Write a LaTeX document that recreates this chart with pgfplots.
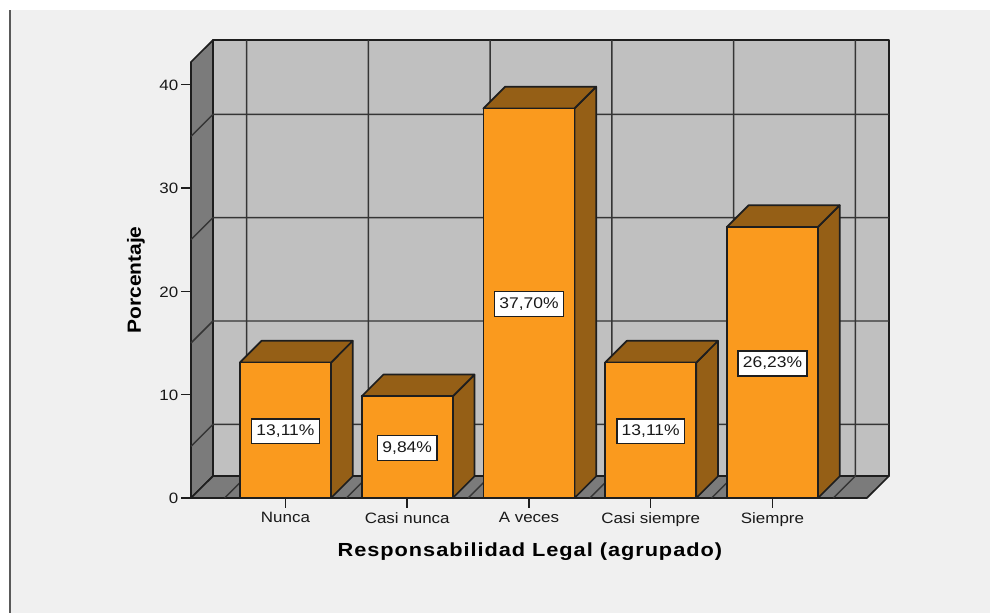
\documentclass[border=0pt]{standalone}
\usepackage{fontspec}
\usepackage{pgfplots}
\pgfplotsset{compat=1.18}
\setmainfont[FakeStretch=1.13]{Liberation Sans}
\newfontfamily\xlabfont[FakeStretch=1.15,LetterSpace=5,BoldFont={Liberation Sans Bold}]{Liberation Sans}
\newfontfamily\ylabfont[FakeStretch=1.1,BoldFont={Liberation Sans Bold}]{Liberation Sans}
\definecolor{bgc}{HTML}{F0F0F0}
\definecolor{wallc}{HTML}{C0C0C0}
\definecolor{floorc}{HTML}{7B7B7B}
\definecolor{orangec}{HTML}{FA9A1E}
\definecolor{brownc}{HTML}{955F16}
\definecolor{linec}{HTML}{1E1E1E}
\begin{document}
\begin{tikzpicture}[x=0.75pt,y=0.75pt]
\fill[white] (0,0) rectangle (990,613);
\fill[bgc] (11,0) rectangle (990,603);
\draw[color=black!65,line width=1.4pt] (10,0) -- (10,603);
\begin{axis}[
  at={(143.25pt,86.25pt)},anchor=south west,
  scale only axis,width=523.5pt,height=343.5pt,
  xmin=0.224,xmax=5.957,ymin=0,ymax=44.32,
  clip=false,
  axis line style={draw=none},
  xtick={1,2,3,4,5},
  xticklabels={Nunca,Casi nunca,A veces,Casi siempre,Siempre},
  ytick={0,10,20,30,40},
  xtick pos=lower,ytick pos=left,
  tick align=outside,
  major tick length=7.5pt,
  tick style={linec,line width=1.1pt},
  tick label style={font=\fontsize{11.25}{13}\selectfont,text=black!90},
  xticklabel style={yshift=0.2pt},
  yticklabel style={xshift=1.5pt,yshift=-0.5pt},
  /pgf/number format/assume math mode=true,
  xlabel={\xlabfont\bfseries Responsabilidad Legal (agrupado)},
  ylabel={\ylabfont\bfseries Porcentaje},
  every axis x label/.style={at={(axis description cs:0.4855,-0.1175)},anchor=center,font=\fontsize{14.2}{16}\selectfont},
  every axis y label/.style={at={(axis description cs:-0.0789,0.476)},anchor=center,rotate=90,font=\fontsize{14.3}{16}\selectfont},
  wall/.style={draw=linec,line width=1.3pt,line join=round},
  gridl/.style={draw=linec!90!white,line width=1.1pt,no markers},
  barside/.style={fill=brownc,draw=linec,line width=1.3pt,line join=round},
]
% walls
\addplot[wall,fill=floorc] coordinates {(0.224,0)(0.405,2.129)(0.405,44.32)(0.224,42.19)} --cycle;
\addplot[wall,fill=floorc] coordinates {(0.224,0)(5.776,0)(5.957,2.129)(0.405,2.129)} --cycle;
\addplot[wall,fill=wallc] coordinates {(0.405,2.129)(5.957,2.129)(5.957,44.32)(0.405,44.32)} --cycle;
% horizontal grid lines
\addplot[gridl] coordinates {(0.224,5)(0.405,7.129)(5.957,7.129)};
\addplot[gridl] coordinates {(0.224,15)(0.405,17.129)(5.957,17.129)};
\addplot[gridl] coordinates {(0.224,25)(0.405,27.129)(5.957,27.129)};
\addplot[gridl] coordinates {(0.224,35)(0.405,37.129)(5.957,37.129)};
% vertical grid lines
\addplot[gridl] coordinates {(0.5,0)(0.681,2.129)(0.681,44.32)};
\addplot[gridl] coordinates {(1.5,0)(1.681,2.129)(1.681,44.32)};
\addplot[gridl] coordinates {(2.5,0)(2.681,2.129)(2.681,44.32)};
\addplot[gridl] coordinates {(3.5,0)(3.681,2.129)(3.681,44.32)};
\addplot[gridl] coordinates {(4.5,0)(4.681,2.129)(4.681,44.32)};
\addplot[gridl] coordinates {(5.5,0)(5.681,2.129)(5.681,44.32)};
% bar 3D faces: side, top
\addplot[barside] coordinates {(1.374,0)(1.552,2.1)(1.552,15.21)(1.374,13.11)} --cycle;
\addplot[barside] coordinates {(0.626,13.11)(1.374,13.11)(1.552,15.21)(0.804,15.21)} --cycle;
\addplot[barside] coordinates {(2.374,0)(2.552,2.1)(2.552,11.94)(2.374,9.84)} --cycle;
\addplot[barside] coordinates {(1.626,9.84)(2.374,9.84)(2.552,11.94)(1.804,11.94)} --cycle;
\addplot[barside] coordinates {(3.374,0)(3.552,2.1)(3.552,39.8)(3.374,37.70)} --cycle;
\addplot[barside] coordinates {(2.626,37.70)(3.374,37.70)(3.552,39.8)(2.804,39.8)} --cycle;
\addplot[barside] coordinates {(4.374,0)(4.552,2.1)(4.552,15.21)(4.374,13.11)} --cycle;
\addplot[barside] coordinates {(3.626,13.11)(4.374,13.11)(4.552,15.21)(3.804,15.21)} --cycle;
\addplot[barside] coordinates {(5.374,0)(5.552,2.1)(5.552,28.33)(5.374,26.23)} --cycle;
\addplot[barside] coordinates {(4.626,26.23)(5.374,26.23)(5.552,28.33)(4.804,28.33)} --cycle;
% bar fronts
\addplot[ybar,bar width=68.25pt,bar shift=0pt,fill=orangec,draw=linec,line width=1.3pt] coordinates {(1,13.11)(2,9.84)(3,37.70)(4,13.11)(5,26.23)};
% value labels
\tikzset{vallab/.style={fill=white,draw=linec,line width=1.1pt,inner xsep=3.6pt,inner ysep=4.5pt,yshift=-0.7pt,font=\fontsize{11.6}{13}\selectfont,text=black!90}}
\node[vallab] at (axis cs:1,6.555) {13,11\%};
\node[vallab] at (axis cs:2,4.92) {9,84\%};
\node[vallab] at (axis cs:3,18.85) {37,70\%};
\node[vallab] at (axis cs:4,6.555) {13,11\%};
\node[vallab] at (axis cs:5,13.115) {26,23\%};
\end{axis}
\end{tikzpicture}
\end{document}
